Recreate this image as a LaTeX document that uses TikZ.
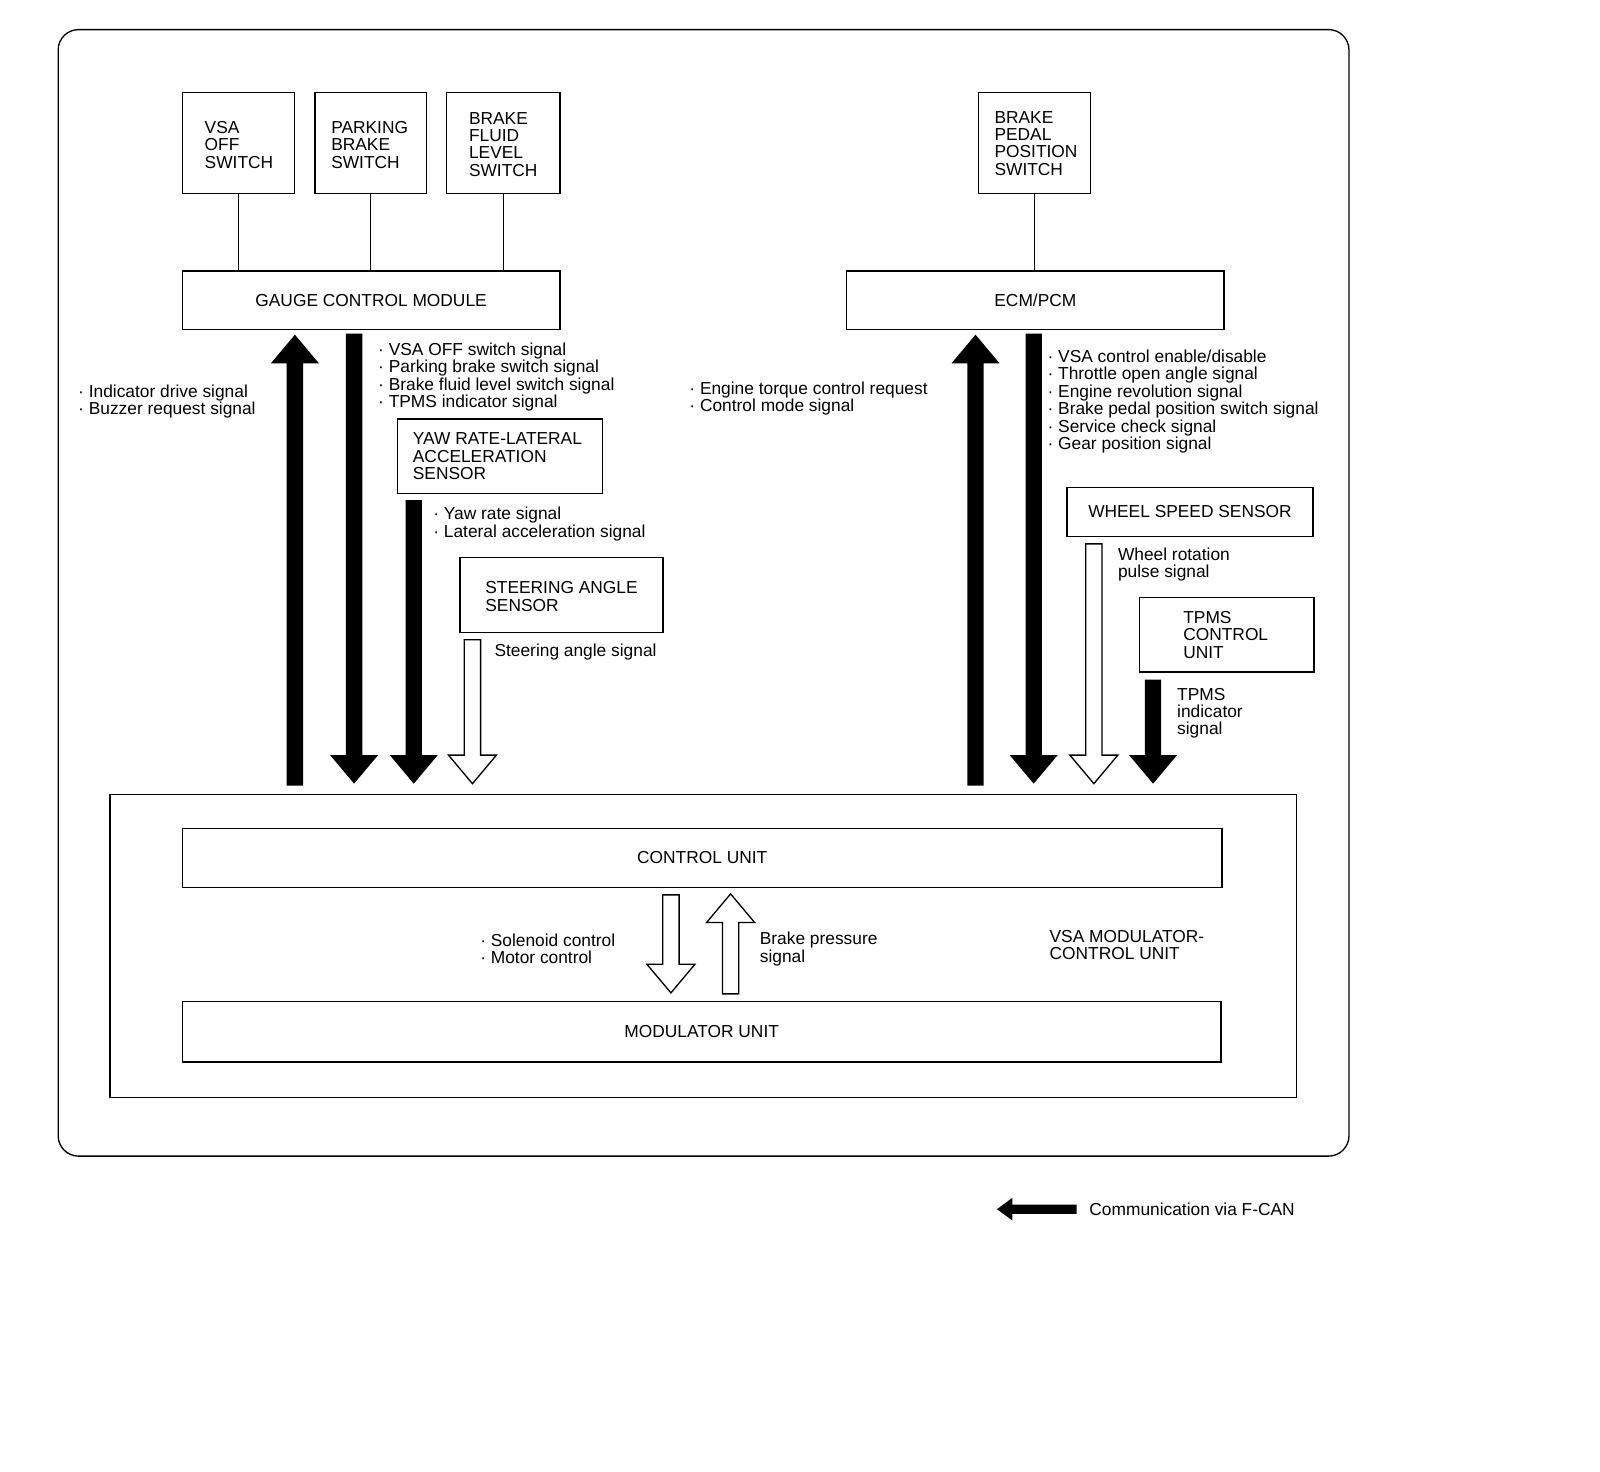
\documentclass[tikz,border=0pt]{standalone}
\usepackage{fontspec}
\setmainfont{Liberation Sans}
\newcommand\dfont{\fontsize{17}{17}\selectfont}
\newcommand\blkarrow[4]{%
  \pgfmathsetmacro\bsgn{(#4>#3) ? 1 : -1}%
  \pgfmathsetmacro\hbase{#4-\bsgn*28}%
  \path[#1] (#2-8,#3) -- (#2-8,\hbase) -- (#2-23.5,\hbase) -- (#2,#4) -- (#2+23.5,\hbase) -- (#2+8,\hbase) -- (#2+8,#3) -- cycle;
}
\begin{document}
\begin{tikzpicture}[x=1pt,y=-1pt,line width=1.3pt,
  box/.style={draw, inner sep=0pt, anchor=north west, font=\dfont},
  txt/.style={inner sep=0pt, align=left, anchor=west, font=\dfont},
  solidarr/.style={fill=black},
  hollowarr/.style={draw, fill=white, line width=1.3pt, line join=miter}]
\fill[white] (0,0) rectangle (1568,1442);
\useasboundingbox (0,0) rectangle (1568,1442);

% outer frame
\draw[rounded corners=20pt] (57,29) rectangle (1322,1133);

% top left boxes
\node[box, minimum width=110pt, minimum height=99pt] (vsa) at (178,90) {};
\node[txt] (vsat) at (200,142) {VSA\\OFF\\SWITCH};
\node[box, minimum width=109pt, minimum height=99pt] (park) at (308,90) {};
\node[txt] (parkt) at (324,142) {PARKING\\BRAKE\\SWITCH};
\node[box, minimum width=111pt, minimum height=99pt] (bfl) at (437,90) {};
\node[txt] (bflt) at (459,141.5) {BRAKE\\FLUID\\LEVEL\\SWITCH};
\node[box, minimum width=370pt, minimum height=57pt] (gcm) at (178,265) {GAUGE CONTROL MODULE};

\draw (vsa.south) -- (vsa.south |- gcm.north);
\draw (park.south) -- (park.south |- gcm.north);
\draw (bfl.south) -- (bfl.south |- gcm.north);

% top right boxes
\node[box, minimum width=110pt, minimum height=99pt] (bpps) at (958,90) {};
\node[txt] (bppst) at (974,140.5) {BRAKE\\PEDAL\\POSITION\\SWITCH};
\node[box, minimum width=370pt, minimum height=57pt] (ecm) at (829,265) {ECM/PCM};
\draw (bpps.south) -- (bpps.south |- ecm.north);

% sensors
\node[box, minimum width=201pt, minimum height=73pt] (yaw) at (389,410) {};
\node[txt] (yawt) at (404,447) {YAW RATE-LATERAL\\ACCELERATION\\SENSOR};
\node[box, minimum width=199pt, minimum height=73pt] (steer) at (450,546) {};
\node[txt] (steert) at (475,584.5) {STEERING ANGLE\\SENSOR};
\node[box, minimum width=241pt, minimum height=48pt] (wheel) at (1045,477) {WHEEL SPEED SENSOR};
\node[box, minimum width=171pt, minimum height=73pt] (tpms) at (1116,585) {};
\node[txt] (tpmst) at (1159,622) {TPMS\\CONTROL\\UNIT};

% VSA modulator-control unit
\node[box, minimum width=1163pt, minimum height=297pt] (vsamod) at (107,778) {};
\node[box, minimum width=1019pt, minimum height=58pt] (cu) at (178,811) {CONTROL UNIT};
\node[box, minimum width=1018pt, minimum height=59pt] (mu) at (178,981) {MODULATOR UNIT};
\node[txt] (vsamodt) at (1028,926) {VSA MODULATOR-\\CONTROL UNIT};

% signal labels
\node[txt] (l1) at (76,393.5) {· Indicator drive signal\\· Buzzer request signal};
\node[txt] (l2) at (370,369.5) {· VSA OFF switch signal\\· Parking brake switch signal\\· Brake fluid level switch signal\\· TPMS indicator signal};
\node[txt] (l3) at (424,513.5) {· Yaw rate signal\\· Lateral acceleration signal};
\node[txt] (l4) at (484,639) {Steering angle signal};
\node[txt] (l5) at (675,390.5) {· Engine torque control request\\· Control mode signal};
\node[txt] (l6) at (1026,393.5) {· VSA control enable/disable\\· Throttle open angle signal\\· Engine revolution signal\\· Brake pedal position switch signal\\· Service check signal\\· Gear position signal};
\node[txt] (l7) at (1095,553.5) {Wheel rotation\\pulse signal};
\node[txt] (l8) at (1153,699) {TPMS\\indicator\\signal};
\node[txt] (l9) at (470,930) {· Solenoid control\\· Motor control};
\node[txt] (l10) at (744,930) {Brake pressure\\signal};

% F-CAN arrows
\blkarrow{solidarr}{289}{770}{328}
\blkarrow{solidarr}{347}{327}{768}
\blkarrow{solidarr}{405.5}{490}{768}
\blkarrow{hollowarr}{463}{627}{768}
\blkarrow{solidarr}{956}{770}{328}
\blkarrow{solidarr}{1013}{327}{768}
\blkarrow{hollowarr}{1072}{533}{768}
\blkarrow{solidarr}{1130}{666}{768}

% internal arrows
\blkarrow{hollowarr}{657.5}{877}{973}
\blkarrow{hollowarr}{716}{974}{876}

% legend
\fill (977,1185) -- (992,1174) -- (992,1180.5) -- (1055,1180.5) -- (1055,1189.5) -- (992,1189.5) -- (992,1196) -- cycle;
\node[txt] (leg) at (1067,1185) {Communication via F-CAN};
\end{tikzpicture}
\end{document}
